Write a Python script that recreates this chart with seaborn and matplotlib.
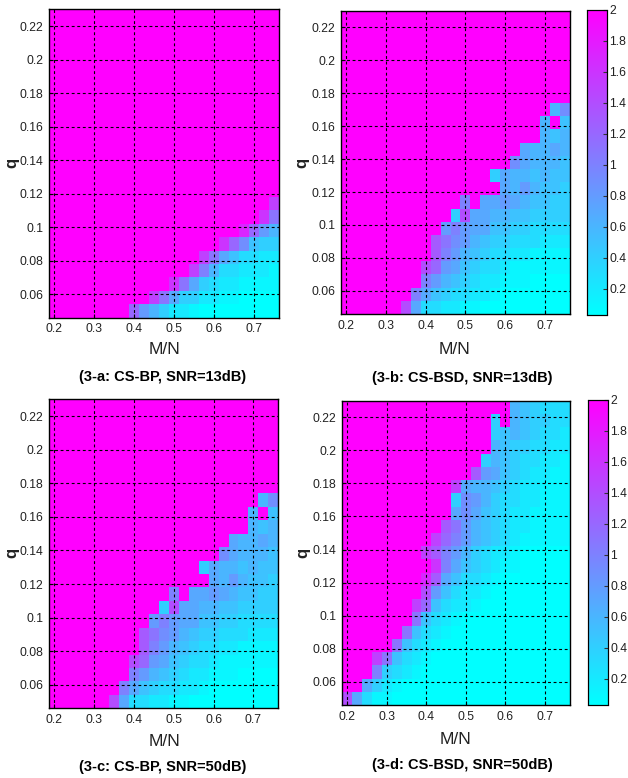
import numpy as np
import pandas as pd
import matplotlib
matplotlib.use("Agg")
import matplotlib.pyplot as plt
import seaborn as sns
from matplotlib import font_manager as fm

# ---------------- data ----------------
mn_values = [0.2, 0.225, 0.25, 0.275, 0.3, 0.325, 0.35, 0.375, 0.4, 0.425, 0.45, 0.475,
             0.5, 0.525, 0.55, 0.575, 0.6, 0.625, 0.65, 0.675, 0.7, 0.725, 0.75]
q_values = [0.05, 0.058, 0.066, 0.074, 0.082, 0.09, 0.098, 0.106, 0.114, 0.122, 0.13, 0.138,
            0.146, 0.154, 0.162, 0.17, 0.178, 0.186, 0.194, 0.202, 0.21, 0.218, 0.226]
x_ticks = [0.2, 0.3, 0.4, 0.5, 0.6, 0.7]
y_ticks = [0.06, 0.08, 0.1, 0.12, 0.14, 0.16, 0.18, 0.2, 0.22]
cbar_ticks = [0.2, 0.4, 0.6, 0.8, 1.0, 1.2, 1.4, 1.6, 1.8, 2.0]

# cell levels: 'a'=0.0, 'b'=0.1, ... 'u'=2.0 ; rows listed from top (q=0.226) to bottom (q=0.05)
level_chars = "abcdefghijklmnopqrstu"
level_values = [0.0, 0.1, 0.2, 0.3, 0.4, 0.5, 0.6, 0.7, 0.8, 0.9, 1.0,
                1.1, 1.2, 1.3, 1.4, 1.5, 1.6, 1.7, 1.8, 1.9, 2.0]

grid_a = [
    "uuuuu uuuuu uuuuu uuuuu uuu",
    "uuuuu uuuuu uuuuu uuuuu uuu",
    "uuuuu uuuuu uuuuu uuuuu uuu",
    "uuuuu uuuuu uuuuu uuuuu uuu",
    "uuuuu uuuuu uuuuu uuuuu uuu",
    "uuuuu uuuuu uuuuu uuuuu uuu",
    "uuuuu uuuuu uuuuu uuuuu uuu",
    "uuuuu uuuuu uuuuu uuuuu uuu",
    "uuuuu uuuuu uuuuu uuuuu uuu",
    "uuuuu uuuuu uuuuu uuuuu uuu",
    "uuuuu uuuuu uuuuu uuuuu uuu",
    "uuuuu uuuuu uuuuu uuuuu uuu",
    "uuuuu uuuuu uuuuu uuuuu uuu",
    "uuuuu uuuuu uuuuu uuuuu uuu",
    "uuuuu uuuuu uuuuu uuuuu uup",
    "uuuuu uuuuu uuuuu uuuuu uql",
    "uuuuu uuuuu uuuuu uuuur mig",
    "uuuuu uuuuu uuuuu uuqmj fee",
    "uuuuu uuuuu uuuuu plhfd dcc",
    "uuuuu uuuuu uuuup kgddc ccb",
    "uuuuu uuuuu uuqlh edccb bbb",
    "uuuuu uuuuu plhee ccbba aaa",
    "uuuuu uuumi geccb aaaaa aaa",
]

grid_b = [
    "uuuuu uuuuu uuuuu uuuuu uuu",
    "uuuuu uuuuu uuuuu uuuuu uuu",
    "uuuuu uuuuu uuuuu uuuuu uuu",
    "uuuuu uuuuu uuuuu uuuuu uuu",
    "uuuuu uuuuu uuuuu uuuuu uuu",
    "uuuuu uuuuu uuuuu uuuuu uuu",
    "uuuuu uuuuu uuuuu uuuuu uuu",
    "uuuuu uuuuu uuuuu uuuuu ugj",
    "uuuuu uuuuu uuuuu uuuuu guf",
    "uuuuu uuuuu uuuuu uuuuu gfg",
    "uuuuu uuuuu uuuuu uuuhg ghg",
    "uuuuu uuuuu uuuuu uujhg ggf",
    "uuuuu uuuuu uuuuu ehggf gff",
    "uuuuu uuuuu uuuuu uhgig ffe",
    "uuuuu uuuuu uukuh hihgf fee",
    "uuuuu uuuuu ueohh ggffe eee",
    "uuuuu uuuuu ikihh ffeed ddd",
    "uuuuu uuuun ljigf eeddd ccc",
    "uuuuu uuuun kigfe ddccb bbb",
    "uuuuu uuuom ihfed dcbbb bbb",
    "uuuuu uuuki gfedc cbbba aaa",
    "uuuuu uukhf eddcc baaaa aaa",
    "uuuuu uohdd ccbba aaaaa aaa",
]

grid_c = [
    "uuuuu uuuuu uuuuu uuuuu uuu",
    "uuuuu uuuuu uuuuu uuuuu uuu",
    "uuuuu uuuuu uuuuu uuuuu uuu",
    "uuuuu uuuuu uuuuu uuuuu uuu",
    "uuuuu uuuuu uuuuu uuuuu uuu",
    "uuuuu uuuuu uuuuu uuuuu uuu",
    "uuuuu uuuuu uuuuu uuuuu uuu",
    "uuuuu uuuuu uuuuu uuuuu ugj",
    "uuuuu uuuuu uuuuu uuuuu guf",
    "uuuuu uuuuu uuuuu uuuuu gfg",
    "uuuuu uuuuu uuuuu uuuhg ghg",
    "uuuuu uuuuu uuuuu uujhg ggf",
    "uuuuu uuuuu uuuuu ehggf gff",
    "uuuuu uuuuu uuuuu uhgig ffe",
    "uuuuu uuuuu uukuh hihgf fee",
    "uuuuu uuuuu ueohh ggffe eee",
    "uuuuu uuuuu ikihh ffeed ddd",
    "uuuuu uuuun ljigf eeddd ccc",
    "uuuuu uuuun kigfe ddccb bbb",
    "uuuuu uuuom ihfed dcbbb bbb",
    "uuuuu uuuki gfedc cbbba aaa",
    "uuuuu uukhf eddcc baaaa aaa",
    "uuuuu uohdd ccbba aaaaa aaa",
]

grid_d = [
    "uuuuu uuuuu uuuuu uugfe ddd",
    "uuuuu uuuuu uuuuu eugfe edd",
    "uuuuu uuuuu uuuuu efgfe ddc",
    "uuuuu uuuuu uuuuu gfeed dcc",
    "uuuuu uuuuu uuuue gfedd ccb",
    "uuuuu uuuuu uuuni hfedc cbb",
    "uuuuu uuuuu uphgg fedcc bbb",
    "uuuuu uuuuu uejig eddcc bbb",
    "uuuuu uuuuu uhjhf edccb bbb",
    "uuuuu uuuuu nligf edccb bbb",
    "uuuuu uuuup mkigf edcbb bbb",
    "uuuuu uuupn kiged ccbaa aaa",
    "uuuuu uuuuq khfed cbbaa aaa",
    "uuuuu uuurn hfddc baaaa aaa",
    "uuuuu uuuoi fdccb aaaaa aaa",
    "uuuuu uupmf dccba aaaaa aaa",
    "uuuuu uulfd cbaaa aaaaa aaa",
    "uuuuu ulfdc baaaa aaaaa aaa",
    "uuuuu lfdcb aaaaa aaaaa aaa",
    "uuupl fdcba aaaaa aaaaa aaa",
    "uuuke dcbaa aaaaa aaaaa aaa",
    "uuhec baaaa aaaaa aaaaa aaa",
    "ohdbb aaaaa aaaaa aaaaa aaa",
]

captions = ["(3-a: CS-BP, SNR=13dB)", "(3-b: CS-BSD, SNR=13dB)",
            "(3-c: CS-BP, SNR=50dB)", "(3-d: CS-BSD, SNR=50dB)"]

# ---------------- helpers ----------------
lut = dict(zip(level_chars, level_values))


def to_frame(rows):
    mat = []
    for r in rows:
        s = r.replace(" ", "")
        if len(s) != len(mn_values):
            raise ValueError(f"bad row length {len(s)}: {r}")
        mat.append([lut[c] for c in s])
    return pd.DataFrame(mat, index=q_values[::-1], columns=mn_values)


names = {f.name for f in fm.fontManager.ttflist}
FONT = "Liberation Sans Narrow" if "Liberation Sans Narrow" in names else "Liberation Sans"
plt.rcParams["font.family"] = [FONT, "DejaVu Sans"]

W, H = 628, 778
fig = plt.figure(figsize=(W / 100, H / 100), dpi=100)
fig.patch.set_facecolor("white")


def rect(x0, y0, x1, y1):
    return [x0 / W, 1 - y1 / H, (x1 - x0) / W, (y1 - y0) / H]


ax_a = fig.add_axes(rect(49.3, 9.3, 279.0, 317.5))
ax_b = fig.add_axes(rect(341.3, 10.7, 569.7, 314.0))
cax_top = fig.add_axes(rect(587.3, 10.0, 606.7, 315.0))
ax_c = fig.add_axes(rect(49.3, 399.3, 278.3, 708.3))
ax_d = fig.add_axes(rect(342.3, 400.7, 569.7, 705.0))
cax_bot = fig.add_axes(rect(588.3, 400.0, 607.7, 705.0))

VMIN, VMAX = 0.03, 2.0
centers = np.arange(len(mn_values)) + 0.5
xpos = np.interp(x_ticks, mn_values, centers)
ypos = np.interp(y_ticks, q_values, centers[::-1])

panels = [
    (ax_a, grid_a, None),
    (ax_b, grid_b, cax_top),
    (ax_c, grid_c, None),
    (ax_d, grid_d, cax_bot),
]

for ax, rows, cax in panels:
    df = to_frame(rows)
    kw = dict(cmap="cool", vmin=VMIN, vmax=VMAX, xticklabels=False, yticklabels=False)
    if cax is not None:
        sns.heatmap(df, ax=ax, cbar=True, cbar_ax=cax, cbar_kws={"ticks": cbar_ticks}, **kw)
    else:
        sns.heatmap(df, ax=ax, cbar=False, **kw)
    ax.set_xticks(xpos)
    ax.set_xticklabels([f"{t:g}" for t in x_ticks], fontsize=8.7, color="#222222")
    ax.set_yticks(ypos)
    ax.set_yticklabels([f"{t:g}" for t in y_ticks], fontsize=8.7, color="#222222", rotation=0)
    ax.tick_params(direction="in", length=3, width=0.8, color="black", pad=4)
    ax.set_xlabel("")
    ax.set_ylabel("")
    ax.set_axisbelow(False)
    ax.grid(True, color="black", linestyle=(0, (2.6, 2.4)), linewidth=0.8)
    for s in ax.spines.values():
        s.set_visible(True)
        s.set_color("black")
        s.set_linewidth(1.0)

for cax in (cax_top, cax_bot):
    cax.set_yticks(cbar_ticks)
    cax.set_yticklabels([f"{t:g}" for t in cbar_ticks], fontsize=8.7, color="#222222")
    cax.tick_params(direction="in", length=3, width=0.8, color="#333333", pad=2)
    for s in cax.spines.values():
        s.set_visible(True)
        s.set_color("black")
        s.set_linewidth(0.8)

# labels
def ftext(x, y, s, **kw):
    fig.text(x / W, 1 - y / H, s, ha="center", va="center", **kw)

for (xq, yq) in [(12, 163), (302, 163), (12, 553), (303, 553)]:
    ftext(xq, yq, "q", rotation=90, fontsize=12, fontweight="bold", color="#222222")
for (xm, ym) in [(164, 350), (455, 350), (164, 742), (456, 739)]:
    ftext(xm, ym, "M/N", fontsize=12.5, color="#222222")
for cap, (xc, yc) in zip(captions, [(163, 377), (462, 378), (163, 767), (462, 765)]):
    ftext(xc, yc, cap, fontsize=10.5, fontweight="bold", color="black")

fig.savefig("out.png", dpi=100)
